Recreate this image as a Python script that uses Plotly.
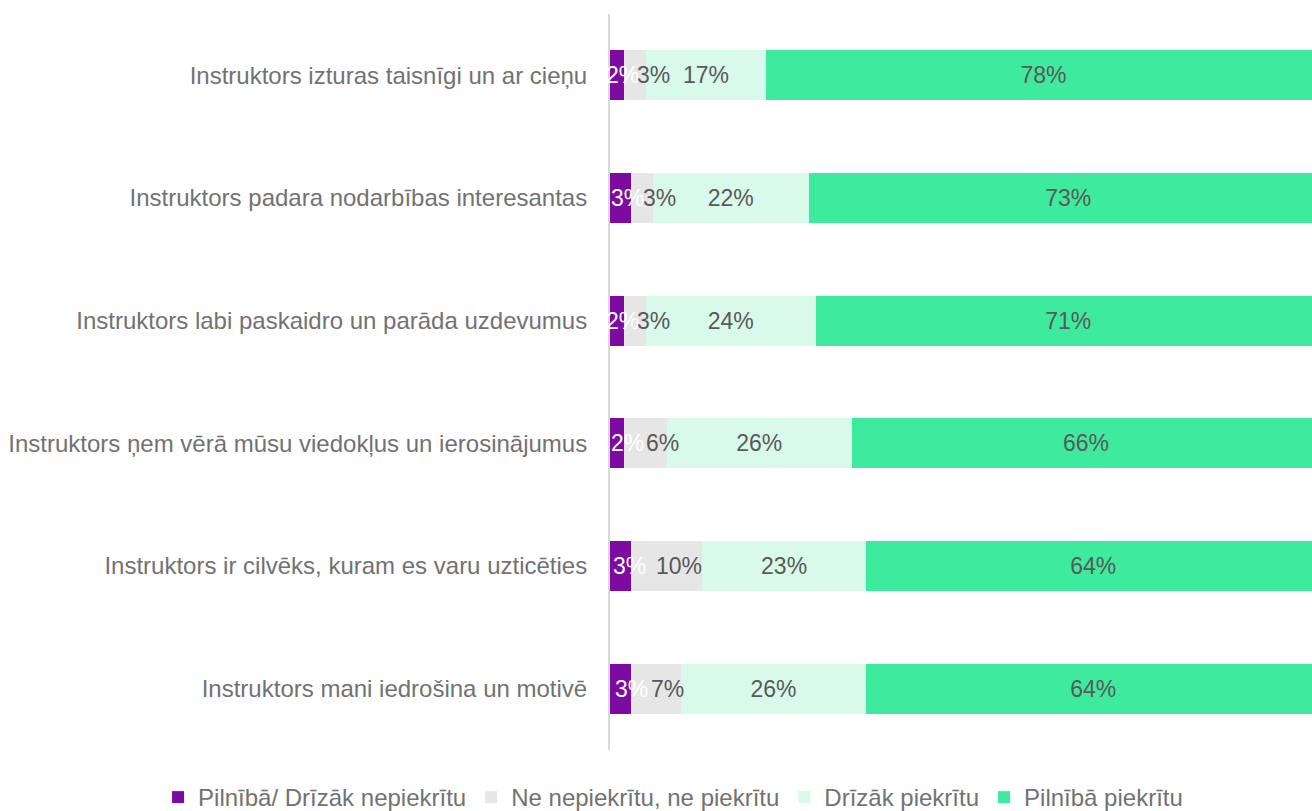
import plotly.graph_objects as go

# Survey statements (top to bottom)
statements = [
    "Instruktors izturas taisnīgi un ar cieņu",
    "Instruktors padara nodarbības interesantas",
    "Instruktors labi paskaidro un parāda uzdevumus",
    "Instruktors ņem vērā mūsu viedokļus un ierosinājumus",
    "Instruktors ir cilvēks, kuram es varu uzticēties",
    "Instruktors mani iedrošina un motivē",
]

series_names = [
    "Pilnībā/ Drīzāk nepiekrītu",
    "Ne nepiekrītu, ne piekrītu",
    "Drīzāk piekrītu",
    "Pilnībā piekrītu",
]

disagree = [2, 3, 2, 2, 3, 3]
neutral = [3, 3, 3, 6, 10, 7]
rather_agree = [17, 22, 24, 26, 23, 26]
fully_agree = [78, 73, 71, 66, 64, 64]

values = [disagree, neutral, rather_agree, fully_agree]
colors = ["#7D0AA1", "#E6E6E6", "#D9F9EA", "#3EEB9E"]

FONT = "Liberation Sans, Arial, sans-serif"
TEXT_SIZE = 24
LABEL_SIZE = 23
DARK = "#595959"
SOFT = "#727272"

# Pixel nudges that keep the narrow-segment labels from piling up on the axis
disagree_label_shift = [5, 7, 5, 10, 9, 11]
neutral_label_shift = [19, 18, 19, 17, 12, 11]

fig = go.Figure()
for i, (name, vals, col) in enumerate(zip(series_names, values, colors)):
    bar = dict(
        y=statements,
        x=vals,
        name=name,
        orientation="h",
        marker=dict(color=col, line=dict(width=0)),
        hoverinfo="skip",
    )
    if i >= 2:
        bar.update(
            text=[f"{v}%" for v in vals],
            textposition="inside",
            insidetextanchor="middle",
            textfont=dict(family=FONT, size=LABEL_SIZE, color=DARK),
        )
    else:
        bar.update(textposition="none")
    fig.add_trace(go.Bar(**bar))

# Labels of the two narrow leading segments
annotations = []
for i, (vals, color, shifts) in enumerate([
    (disagree, "white", disagree_label_shift),
    (neutral, DARK, neutral_label_shift),
]):
    for k, stmt in enumerate(statements):
        start = sum(values[j][k] for j in range(i))
        annotations.append(dict(
            x=start + vals[k] / 2, y=stmt, xref="x", yref="y",
            text=f"{vals[k]}%", showarrow=False, xshift=shifts[k],
            font=dict(family=FONT, size=LABEL_SIZE, color=color),
        ))

fig.update_layout(
    width=1312, height=811,
    margin=dict(l=0, r=0, t=14, b=61, autoexpand=False),
    paper_bgcolor="white", plot_bgcolor="white",
    barmode="stack",
    bargap=0.59,
    uniformtext=dict(minsize=LABEL_SIZE, mode="show"),
    font=dict(family=FONT, size=TEXT_SIZE, color=SOFT),
    annotations=annotations,
    showlegend=True,
    legend=dict(
        orientation="h", x=0.513, xanchor="center",
        y=-0.034, yanchor="top",
        font=dict(family=FONT, size=TEXT_SIZE, color=SOFT),
        traceorder="normal",
    ),
    xaxis=dict(domain=[610 / 1312, 1], range=[0, 98.8], visible=False,
               showgrid=False, zeroline=False),
    yaxis=dict(
        autorange="reversed",
        showline=True, linecolor="#D9D9D9", linewidth=2,
        ticks="outside", ticklen=16, tickcolor="rgba(0,0,0,0)",
        showgrid=False, zeroline=False,
        tickfont=dict(family=FONT, size=TEXT_SIZE, color=SOFT),
    ),
)

fig.write_html("out.html")
